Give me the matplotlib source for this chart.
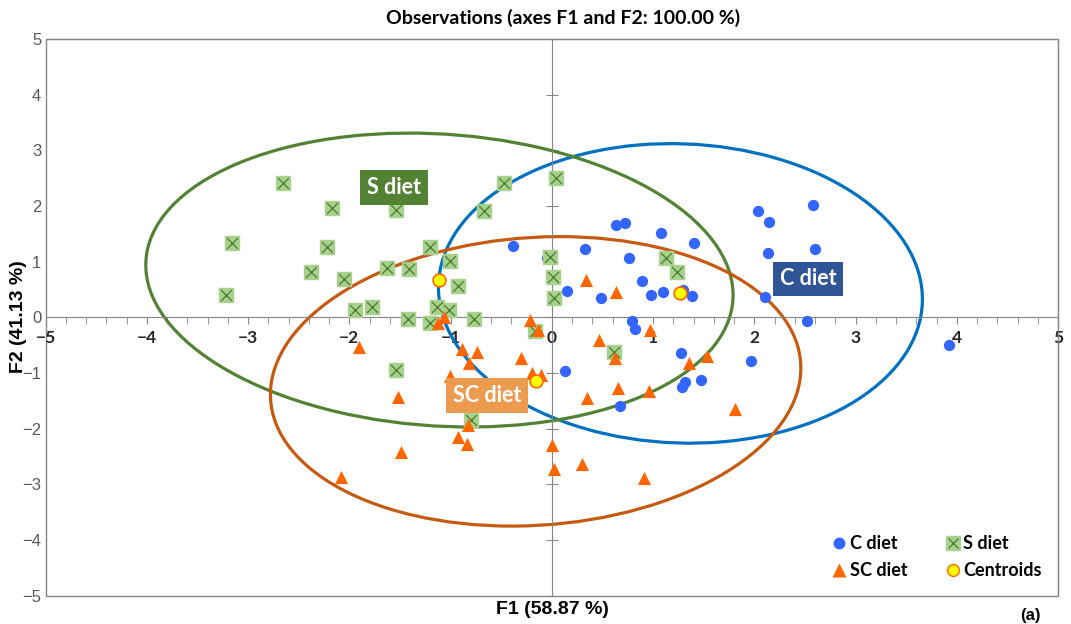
# Observations plot on the F1/F2 plane with 3 confidence ellipses (one per diet)
import numpy as np
import matplotlib
matplotlib.use("Agg")
import matplotlib.pyplot as plt
from matplotlib.patches import Ellipse
from matplotlib.lines import Line2D

# --- data ---
c_x = [-0.38, -0.05, 0.33, 0.63, 0.72, 1.08, 0.76, 1.40, 0.15, 0.49, 0.89,
       0.98, 1.10, 1.30, 1.38, 0.79, 0.82, 2.04, 2.14, 2.58, 2.13, 2.60,
       2.11, 2.52, 1.97, 1.28, 0.13, 3.92, 1.32, 1.29, 1.47, 0.67]
c_y = [1.28, 1.06, 1.23, 1.66, 1.70, 1.51, 1.06, 1.33, 0.48, 0.34, 0.66,
       0.41, 0.45, 0.49, 0.38, -0.07, -0.21, 1.91, 1.72, 2.02, 1.15, 1.23,
       0.36, -0.06, -0.78, -0.64, -0.97, -0.50, -1.16, -1.25, -1.12, -1.60]

s_x = [-2.65, -2.17, -1.54, -3.16, -2.22, -1.20, -2.38, -2.05, -1.63, -1.41,
       -3.22, -1.94, -1.78, -1.42, -1.13, -1.20, 0.04, -0.47, -0.67, -1.01,
       -0.93, -0.02, 0.01, 0.02, 1.13, 1.24, -1.02, -0.77, -0.17, 0.61,
       -1.54, -0.80]
s_y = [2.42, 1.97, 1.93, 1.33, 1.27, 1.27, 0.82, 0.68, 0.89, 0.87,
       0.40, 0.14, 0.18, -0.03, 0.18, -0.11, 2.51, 2.42, 1.91, 1.02,
       0.57, 1.09, 0.72, 0.34, 1.06, 0.82, 0.14, -0.03, -0.24, -0.62,
       -0.94, -1.84]

sc_x = [0.34, 0.63, 0.97, 0.47, -1.06, -1.12, -0.22, -0.14, -1.90, -0.89,
        -0.74, -0.82, -0.30, -1.01, -0.20, -0.11, -1.52, -0.83, -0.93, -0.84,
        -1.49, -2.08, 0.00, 0.02, 0.30, 0.35, 0.62, 1.35, 1.53, 0.65,
        0.96, 1.81, 0.91]
sc_y = [0.67, 0.45, -0.23, -0.41, 0.00, -0.11, -0.05, -0.22, -0.54, -0.56,
        -0.63, -0.82, -0.73, -1.06, -1.00, -1.04, -1.43, -1.94, -2.15, -2.28,
        -2.42, -2.86, -2.30, -2.72, -2.63, -1.45, -0.73, -0.82, -0.69, -1.27,
        -1.33, -1.64, -2.89]

groups = ["C diet", "S diet", "SC diet"]
cent_x = [1.27, -1.11, -0.16]
cent_y = [0.43, 0.67, -1.15]
# ellipse covariance terms (sxx, syy, sxy) per group
ell_cov = [(5.71, 7.24, -0.25), (8.41, 6.97, -0.78), (6.86, 6.76, 0.62)]
ticks = list(range(-5, 6))

# --- figure ---
fig = plt.figure(figsize=(10.71, 6.24), dpi=100)
ax = fig.add_axes([0.0425, 0.0454, 0.9455, 0.8921])
ax.set_xlim(-5, 5)
ax.set_ylim(-5, 5)

grey = "#868686"
ell_col = ["#0070C0", "#548235", "#C55A11"]
box_col = ["#2F5597", "#548235", "#ED9B4F"]

for (sxx, syy, sxy), cx, cy, col in zip(ell_cov, cent_x, cent_y, ell_col):
    vals, vecs = np.linalg.eigh(np.array([[sxx, sxy], [sxy, syy]]))
    ang = np.degrees(np.arctan2(vecs[1, 1], vecs[0, 1]))
    e = Ellipse((cx, cy), 2 * np.sqrt(vals[1]), 2 * np.sqrt(vals[0]), angle=ang,
                fill=False, ec=col, lw=2.3, zorder=2)
    ax.add_patch(e)

ax.scatter(c_x, c_y, s=66, marker="o", color="#3366FF", lw=0, zorder=3)
ax.scatter(s_x, s_y, s=100, marker="s", color="#A9D18E", ec="#A9D18E", zorder=3)
ax.scatter(s_x, s_y, s=62, marker="x", color="#548235", lw=1.0, zorder=3)
ax.scatter(sc_x, sc_y, s=90, marker="^", color="#FF6600", lw=0, zorder=3)
ax.scatter(cent_x, cent_y, s=85, marker="o", color="#FFFF00", ec="#FF6600",
           lw=1.2, zorder=4)

# group labels
for g, cx, cy, col in zip(groups, [2.53, -1.56, -0.64], [0.69, 2.33, -1.40], box_col):
    ax.text(cx, cy, g, ha="center", va="center", color="white", fontsize=15.5,
            fontweight="bold", family="Lato", zorder=6,
            bbox=dict(boxstyle="square,pad=0.32", fc=col, ec="none"))

# axes through the origin
for side in ["top", "right", "left", "bottom"]:
    ax.spines[side].set_color(grey)
ax.spines["left"].set_position(("data", 0))
ax.spines["bottom"].set_position(("data", 0))
ax.add_patch(plt.Rectangle((0, 0), 1, 1, transform=ax.transAxes, fill=False,
                           ec=grey, lw=1.0, clip_on=False, zorder=1))

ax.set_xticks(ticks)
ax.set_xticks(np.arange(-5, 5.01, 0.2), minor=True)
ax.tick_params(axis="x", which="both", direction="out", length=5, color=grey,
               labelsize=12.5, pad=4)
for lab in ax.get_xticklabels():
    lab.set_fontweight("bold")
    lab.set_family("Lato")
    lab.set_color("#262626")
ax.set_yticks(ticks)
ax.tick_params(axis="y", direction="inout", length=9, color=grey, labelleft=False)

ay = ax.secondary_yaxis("left")
ay.set_yticks(ticks)
ay.spines["left"].set_visible(False)
ay.tick_params(length=0, pad=3, labelsize=12, labelcolor="#595959")
for lab in ay.get_yticklabels():
    lab.set_family("Liberation Sans")

# legend
h_c = Line2D([], [], ls="", marker="o", ms=8.5, color="#3366FF", mec="none")
h_s = (Line2D([], [], ls="", marker="s", ms=9.5, color="#A9D18E", mec="#A9D18E"),
       Line2D([], [], ls="", marker="x", ms=7, color="#548235", mew=1.0))
h_sc = Line2D([], [], ls="", marker="^", ms=9.5, color="#FF6600", mec="none")
h_ce = Line2D([], [], ls="", marker="o", ms=8.5, color="#FFFF00", mec="#FF6600")
ax.legend([h_c, h_sc, h_s, h_ce], ["C diet", "SC diet", "S diet", "Centroids"],
          ncol=2, loc="lower right", frameon=False, handletextpad=0.1,
          columnspacing=2.0, handlelength=1.0, borderaxespad=0.5,
          labelspacing=0.55, prop=dict(family="Lato", weight="bold", size=13))

fig.text(0.526, 0.971, "Observations (axes F1 and F2: 100.00 %)", ha="center",
         va="center", fontsize=14, fontweight="bold", family="Lato")
fig.text(0.516, 0.024, "F1 (58.87 %)", ha="center", va="center", fontsize=14,
         fontweight="bold", family="Liberation Sans")
fig.text(0.017, 0.492, "F2 (41.13 %)", ha="center", va="center", fontsize=14,
         fontweight="bold", family="Liberation Sans", rotation=90)
fig.text(0.962, 0.002, "(a)", ha="center", va="bottom", fontsize=12,
         fontweight="bold", family="Liberation Sans")

fig.savefig("out.png", dpi=100)
